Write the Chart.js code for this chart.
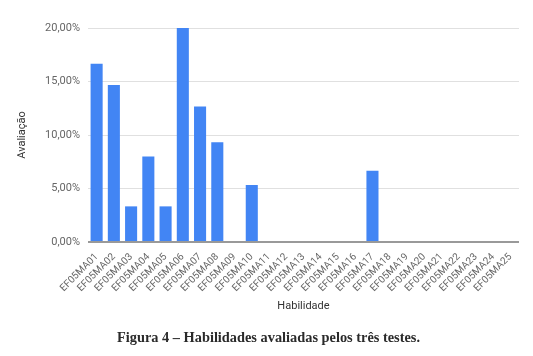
<!DOCTYPE html>
<html>
<head>
<meta charset="utf-8">
<script src="https://cdn.jsdelivr.net/npm/chart.js@4/dist/chart.umd.min.js"></script>
<style>
  html, body { margin: 0; padding: 0; background: #fff; }
  #wrap { position: relative; width: 533px; height: 356px; }
  #c { position: absolute; left: 0; top: 0; }
  #caption { position: absolute; left: 117px; top: 328px; line-height: 18px;
    font-family: "Liberation Serif", serif; font-size: 15px; font-weight: bold; color: #2a2a2a; white-space: nowrap;
    transform-origin: 0 50%; }
</style>
</head>
<body>
<div id="wrap">
  <canvas id="c" width="533" height="356"></canvas>
  <div id="caption">Figura 4 – Habilidades avaliadas pelos três testes.</div>
</div>
<script>
const categories = ["EF05MA01","EF05MA02","EF05MA03","EF05MA04","EF05MA05","EF05MA06","EF05MA07","EF05MA08","EF05MA09","EF05MA10","EF05MA11","EF05MA12","EF05MA13","EF05MA14","EF05MA15","EF05MA16","EF05MA17","EF05MA18","EF05MA19","EF05MA20","EF05MA21","EF05MA22","EF05MA23","EF05MA24","EF05MA25"];
const avaliacao = [16.67, 14.67, 3.33, 8.0, 3.33, 20.0, 12.67, 9.33, 0, 5.33, 0, 0, 0, 0, 0, 0, 6.67, 0, 0, 0, 0, 0, 0, 0, 0];
const yTicks = [0, 5, 10, 15, 20];
const xTitle = "Habilidade";
const yTitle = "Avaliação";

const fmt = v => v.toFixed(2).replace('.', ',') + '%';

// fit caption to its width in the reference
const cap = document.getElementById('caption');
const w = cap.getBoundingClientRect().width;
cap.style.transform = 'scaleX(' + (303 / w) + ')';

new Chart(document.getElementById('c'), {
  type: 'bar',
  data: {
    labels: categories,
    datasets: [{ label: yTitle, data: avaliacao, backgroundColor: '#4285f4', borderWidth: 0,
      categoryPercentage: 1.0, barPercentage: 0.70 }]
  },
  options: {
    responsive: false,
    animation: false,
    layout: { padding: { left: 12, right: 14, top: 28, bottom: 39 } },
    plugins: { legend: { display: false }, tooltip: { enabled: false } },
    scales: {
      x: {
        grid: { display: false },
        border: { display: false },
        ticks: { autoSkip: false, minRotation: 45, maxRotation: 45, color: '#666',
          font: { family: 'Roboto', size: 10 }, padding: 1 },
        title: { display: true, text: xTitle, color: '#333', font: { family: 'Roboto', size: 11 }, padding: { top: 4, bottom: 4 } },
        afterFit: s => { s.height = 75; }
      },
      y: {
        min: 0, max: 20,
        afterBuildTicks: s => { s.ticks = yTicks.map(v => ({ value: v })); },
        ticks: { color: '#666', font: { family: 'Roboto', size: 11 }, padding: 8, callback: v => fmt(v) },
        grid: {
          drawTicks: false,
          color: c => (c.tick && c.tick.value === 0) ? '#999' : '#e0e0e0',
          lineWidth: c => (c.tick && c.tick.value === 0) ? 2 : 1
        },
        border: { display: false },
        title: { display: true, text: yTitle, color: '#333', font: { family: 'Roboto', size: 11 }, padding: { top: 4, bottom: 4 } },
        afterFit: s => { s.width = 76; }
      }
    }
  }
});
</script>
</body>
</html>
